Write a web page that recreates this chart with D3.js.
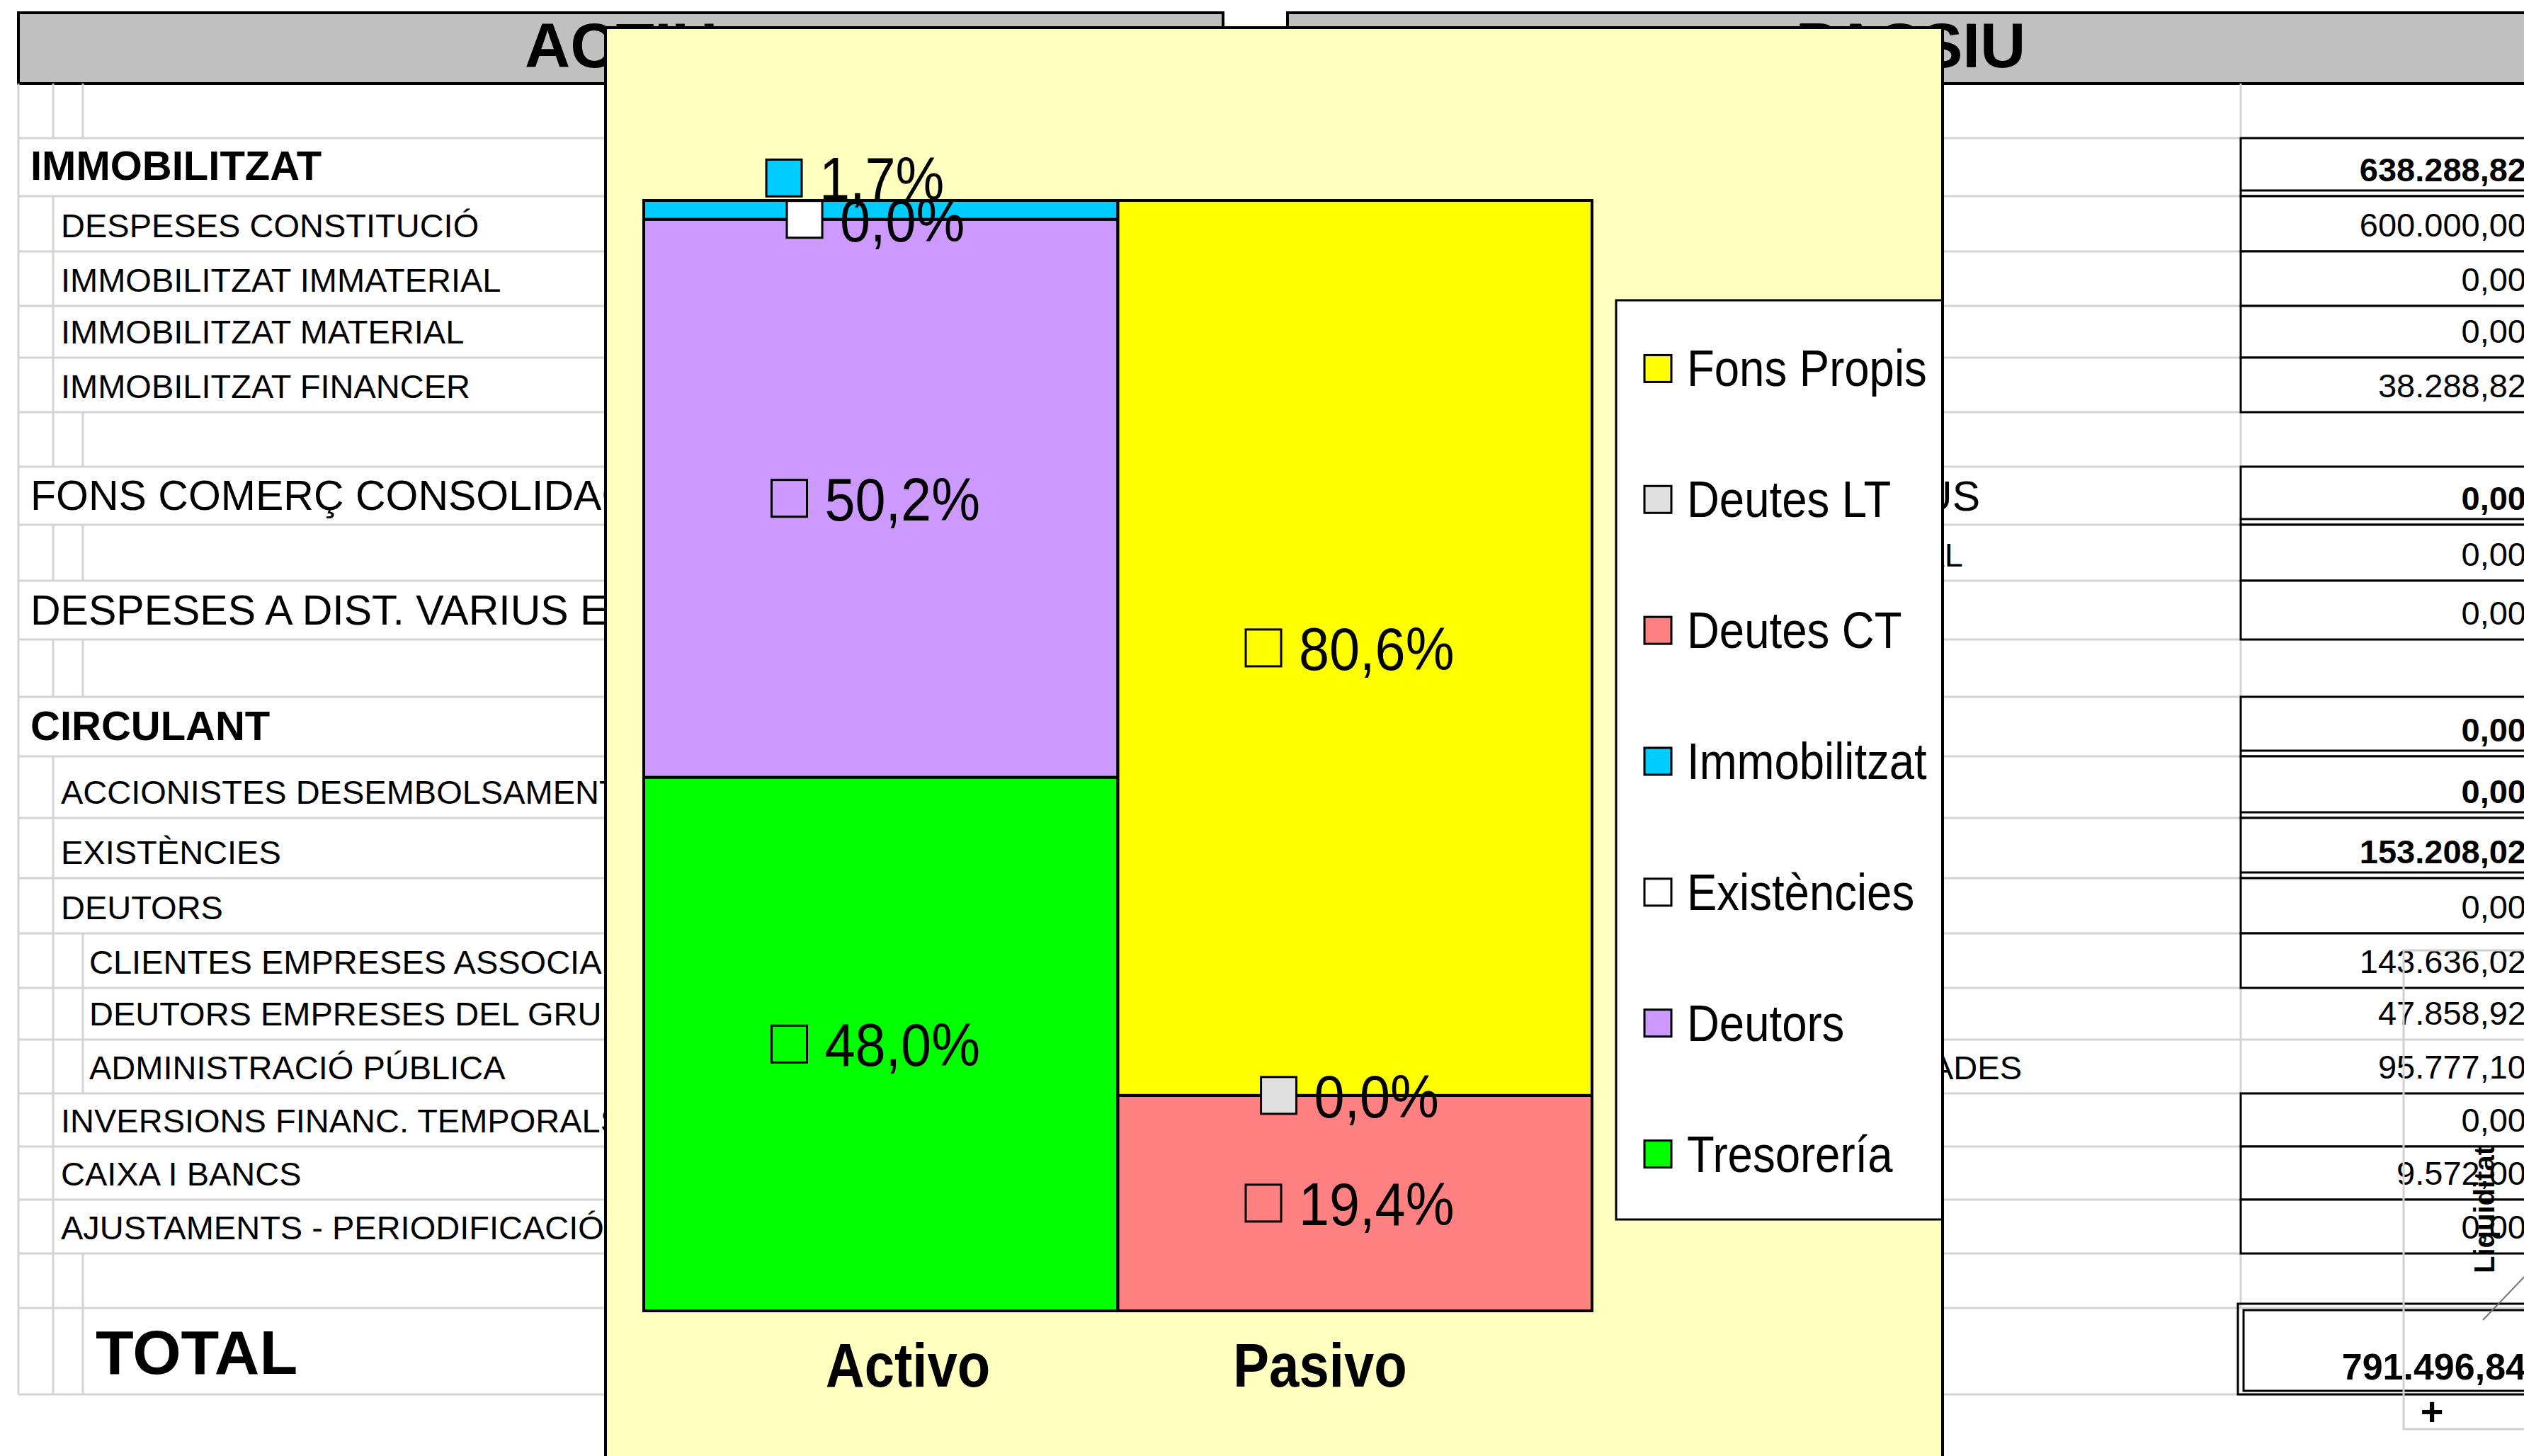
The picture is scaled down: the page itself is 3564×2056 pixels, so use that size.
<!DOCTYPE html>
<html>
<head>
<meta charset="utf-8">
<script src="https://cdn.jsdelivr.net/npm/d3@7/dist/d3.min.js"></script>
<style>
    body { margin: 0; background: #ffffff; overflow: hidden; }
    svg { display: block; font-family: "Liberation Sans", Arial, sans-serif; }
</style>
</head>
<body>
<div id="sheet"></div>
<script>
var categories = ["Activo", "Pasivo"];
var activo_series = ["Tresorería", "Deutors", "Existències", "Immobilitzat"];
var activo_values = [48.0, 50.2, 0.0, 1.7];
var pasivo_series = ["Deutes CT", "Deutes LT", "Fons Propis"];
var pasivo_values = [19.4, 0.0, 80.6];
var legend_names = ["Fons Propis", "Deutes LT", "Deutes CT", "Immobilitzat", "Existències", "Deutors", "Tresorería"];
var legend_colors = ["#FFFF00", "#E0E0E0", "#FF8080", "#00CCFF", "#FFFFFF", "#CC99FF", "#00FF00"];

// ---- spreadsheet behind the chart ----
var actiu_labels = ["", "IMMOBILITZAT", "DESPESES CONSTITUCIÓ", "IMMOBILITZAT IMMATERIAL", "IMMOBILITZAT MATERIAL",
    "IMMOBILITZAT FINANCER", "", "FONS COMERÇ CONSOLIDACIÓ", "", "DESPESES A DIST. VARIUS EXERCICIS", "",
    "CIRCULANT", "ACCIONISTES DESEMBOLSAMENTS EXIGITS", "EXISTÈNCIES", "DEUTORS", "CLIENTES EMPRESES ASSOCIADES",
    "DEUTORS EMPRESES DEL GRUP", "ADMINISTRACIÓ PÚBLICA", "INVERSIONS FINANC. TEMPORALS", "CAIXA I BANCS",
    "AJUSTAMENTS - PERIODIFICACIÓ", "", "TOTAL"];
var actiu_kinds = ["blank", "head", "item", "item", "item", "item", "blank", "big", "blank", "big", "blank",
    "head", "item", "item", "item", "sub", "sub", "sub", "item", "item", "item", "blank", "total"];
var passiu_labels = ["", "", "", "", "", "", "", "INGRESSOS A DIST. VARIUS", "SUBVENCIONS DE CAPITAL", "", "",
    "", "", "", "", "", "", "DEUTES AMB EMPRESES ASSOCIADES", "", "", "", "", ""];
var passiu_values = [null, 638288.82, 600000.00, 0, 0, 38288.82, null, 0, 0, 0, null,
    0, 0, 153208.02, 0, 143636.02, 47858.92, 95777.10, 0, 9572.00, 0, null, 791496.84];

// ---- layout ----
var W = 3564, H = 2056;
var row_edges = [118, 195, 277, 355, 432, 505, 582, 659, 741, 820, 903, 984, 1068, 1155, 1240, 1318, 1395,
    1468, 1544, 1619, 1694, 1770, 1847, 1969];
var bold_rows = [1, 7, 11, 12, 13, 22];
var double_rows = [1, 7, 11, 12, 13];
var open_rows = [16, 17];
var passiu_label_end = {7: 2796, 8: 2772, 17: 2855};

var ca = d3.formatLocale({decimal: ",", thousands: ".", grouping: [3], currency: ["", " €"]});
var money = ca.format(",.2f");
var pct = function(v) { return ca.format(".1f")(v) + "%"; };

var svg = d3.select("#sheet").append("svg").attr("width", W).attr("height", H);

// ================= spreadsheet =================
var sheet = svg.append("g");
var grid = "#D4D4D4";

// header bands
sheet.append("rect").attr("x", 26).attr("y", 18).attr("width", 1701).attr("height", 100)
    .attr("fill", "#C0C0C0").attr("stroke", "#000").attr("stroke-width", 4);
sheet.append("text").attr("x", 877).attr("y", 95).attr("text-anchor", "middle")
    .attr("font-size", 89).attr("font-weight", "bold").text("ACTIU");
sheet.append("rect").attr("x", 1818).attr("y", 18).attr("width", 1780).attr("height", 100)
    .attr("fill", "#C0C0C0").attr("stroke", "#000").attr("stroke-width", 4);
sheet.append("text").attr("x", 2698).attr("y", 95).attr("text-anchor", "middle")
    .attr("font-size", 89).attr("font-weight", "bold").text("PASSIU");

var rows = actiu_labels.map(function(lab, i) {
    return {i: i, top: row_edges[i], bottom: row_edges[i + 1], label: lab, kind: actiu_kinds[i],
            plabel: passiu_labels[i], value: passiu_values[i]};
});

// horizontal grid lines
sheet.selectAll(".hline").data(row_edges.slice(1)).enter().append("line")
    .attr("x1", 26).attr("x2", 1727).attr("y1", function(d) { return d; }).attr("y2", function(d) { return d; })
    .attr("stroke", grid).attr("stroke-width", 3);
sheet.selectAll(".hline2").data(row_edges.slice(1)).enter().append("line")
    .attr("x1", 1818).attr("x2", W).attr("y1", function(d) { return d; }).attr("y2", function(d) { return d; })
    .attr("stroke", grid).attr("stroke-width", 3);
sheet.append("line").attr("x1", 26).attr("x2", 26).attr("y1", 118).attr("y2", 1969)
    .attr("stroke", grid).attr("stroke-width", 3);

// indent lines of the actiu labels
rows.forEach(function(r) {
    var xs = [];
    if (r.kind == "blank" || r.kind == "sub" || r.kind == "total") { xs = [75, 117]; }
    else if (r.kind == "item") { xs = [75]; }
    xs.forEach(function(xx) {
        sheet.append("line").attr("x1", xx).attr("x2", xx).attr("y1", r.top).attr("y2", r.bottom)
            .attr("stroke", grid).attr("stroke-width", 3);
    });
    if (r.value === null || open_rows.indexOf(r.i) >= 0) {
        sheet.append("line").attr("x1", 3164).attr("x2", 3164).attr("y1", r.top).attr("y2", r.bottom)
            .attr("stroke", grid).attr("stroke-width", 3);
    }
});

var label_style = {
    head: {x: 43, size: 58, weight: "bold", lift: 23},
    big: {x: 43, size: 59, weight: "normal", lift: 21},
    item: {x: 86, size: 47, weight: "normal", lift: 20},
    sub: {x: 126, size: 47, weight: "normal", lift: 20},
    total: {x: 135, size: 88, weight: "bold", lift: 29},
    blank: {x: 43, size: 47, weight: "normal", lift: 20}
};

sheet.selectAll(".alabel").data(rows.filter(function(r) { return r.label; })).enter().append("text")
    .attr("x", function(r) { return label_style[r.kind].x; })
    .attr("y", function(r) { return r.bottom - label_style[r.kind].lift; })
    .attr("font-size", function(r) { return label_style[r.kind].size; })
    .attr("font-weight", function(r) { return label_style[r.kind].weight; })
    .text(function(r) { return r.label; });

sheet.selectAll(".plabel").data(rows.filter(function(r) { return r.plabel; })).enter().append("text")
    .attr("x", function(r) { return passiu_label_end[r.i]; })
    .attr("y", function(r) { return r.bottom - 20; })
    .attr("text-anchor", "end")
    .attr("font-size", function(r) { return r.i == 7 ? 59 : 47; })
    .text(function(r) { return r.plabel; });

// value cells
rows.filter(function(r) { return r.value !== null; }).forEach(function(r) {
    var boxed = open_rows.indexOf(r.i) < 0;
    if (r.kind == "total") {
        sheet.append("rect").attr("x", 3160).attr("y", 1841).attr("width", 440).attr("height", 128)
            .attr("fill", "none").attr("stroke", "#000").attr("stroke-width", 3);
        sheet.append("rect").attr("x", 3168).attr("y", 1850).attr("width", 440).attr("height", 114)
            .attr("fill", "none").attr("stroke", "#000").attr("stroke-width", 3);
    } else if (boxed) {
        sheet.append("rect").attr("x", 3164).attr("y", r.top).attr("width", 440).attr("height", r.bottom - r.top)
            .attr("fill", "#fff").attr("stroke", "#000").attr("stroke-width", 3);
        if (double_rows.indexOf(r.i) >= 0) {
            sheet.append("line").attr("x1", 3164).attr("x2", W).attr("y1", r.bottom - 8).attr("y2", r.bottom - 8)
                .attr("stroke", "#000").attr("stroke-width", 3);
        }
    }
    sheet.append("text").attr("x", 3567)
        .attr("y", r.kind == "total" ? 1948 : r.bottom - 21)
        .attr("text-anchor", "end")
        .attr("font-size", r.kind == "total" ? 52 : 47)
        .attr("font-weight", bold_rows.indexOf(r.i) >= 0 ? "bold" : "normal")
        .text(money(r.value));
});

// small "Liquiditat" drawing object on the right
var liq = svg.append("g");
liq.append("rect").attr("x", 3394).attr("y", 1342).attr("width", 240).attr("height", 676)
    .attr("fill", "none").attr("stroke", "#D0D0D0").attr("stroke-width", 3);
liq.append("line").attr("x1", 3506).attr("y1", 1864).attr("x2", 3572).attr("y2", 1795)
    .attr("stroke", "#707070").attr("stroke-width", 2);
liq.append("text").attr("transform", "translate(3522,1708) rotate(-90)").attr("text-anchor", "middle")
    .attr("font-size", 40).attr("font-weight", "bold").text("Liquiditat");
liq.append("text").attr("x", 3434).attr("y", 2012).attr("text-anchor", "middle")
    .attr("font-size", 56).attr("font-weight", "bold").text("+");

// ================= chart object =================
var chart = svg.append("g");
chart.append("rect").attr("x", 855).attr("y", 39).attr("width", 1888).attr("height", 2100)
    .attr("fill", "#FFFFC0");

var color = d3.scaleOrdinal().domain(legend_names).range(legend_colors);

var x = d3.scaleBand().domain(categories).range([909, 2248]).padding(0);
var y = d3.scaleLinear().domain([0, 100]).range([1851, 283]);
// category names sit a little toward the middle of the plot
var xlab = d3.scalePoint().domain(categories).range([1282, 1864]);

// 100% stacked table: one row per category, normalised to the category total
var stack_keys = activo_series.concat(pasivo_series);
var table = [
    {cat: "Activo", names: activo_series, vals: activo_values},
    {cat: "Pasivo", names: pasivo_series, vals: pasivo_values}
].map(function(c) {
    var total = d3.sum(c.vals);
    var row = {cat: c.cat};
    stack_keys.forEach(function(k) { row[k] = 0; });
    c.names.forEach(function(n, i) { row[n] = c.vals[i] / total * 100; row[n + "_raw"] = c.vals[i]; });
    row.names = c.names;
    return row;
});

var stacked = d3.stack().keys(stack_keys)(table);
var segments = [];
stacked.forEach(function(layer) {
    layer.forEach(function(p) {
        if (p.data.names.indexOf(layer.key) >= 0) {
            segments.push({key: layer.key, cat: p.data.cat, y0: p[0], y1: p[1], raw: p.data[layer.key + "_raw"]});
        }
    });
});

chart.selectAll(".seg").data(segments.filter(function(s) { return s.y1 > s.y0; })).enter().append("rect")
    .attr("x", function(s) { return x(s.cat); })
    .attr("width", x.bandwidth())
    .attr("y", function(s) { return y(s.y1); })
    .attr("height", function(s) { return y(s.y0) - y(s.y1); })
    .attr("fill", function(s) { return color(s.key); })
    .attr("stroke", "#000").attr("stroke-width", 4);

// data labels: legend key + percentage, centred on each segment
var label_nudge = {"Immobilitzat": [-29, -45]};
var sx = 0.9;
segments.forEach(function(s) {
    var nud = label_nudge[s.key] || [0, 0];
    var cx = x(s.cat) + x.bandwidth() / 2 - 7 + nud[0];
    var cy = y((s.y0 + s.y1) / 2) + nud[1];
    var g = chart.append("g");
    var t = g.append("text").attr("font-size", 86).text(pct(s.raw));
    var tw = t.node().getComputedTextLength() * sx;
    var left = cx - (50 + 25 + tw) / 2;
    g.insert("rect", "text").attr("x", left).attr("y", cy - 26).attr("width", 50).attr("height", 52)
        .attr("fill", color(s.key)).attr("stroke", "#000").attr("stroke-width", 3);
    t.attr("transform", "translate(" + (left + 75) + "," + (cy + 31) + ") scale(" + sx + ",1)");
});

// category names
chart.selectAll(".cat").data(categories).enter().append("text")
    .attr("transform", function(d) { return "translate(" + xlab(d) + ",1958) scale(0.865,1)"; })
    .attr("text-anchor", "middle").attr("font-size", 88).attr("font-weight", "bold")
    .text(function(d) { return d; });

// legend (its right side is cut by the chart border)
var ly = d3.scaleBand().domain(legend_names).range([428, 1722]);
chart.append("rect").attr("x", 2282).attr("y", 424).attr("width", 461).attr("height", 1298)
    .attr("fill", "#fff").attr("stroke", "#000").attr("stroke-width", 3);
var items = chart.selectAll(".leg").data(legend_names).enter().append("g")
    .attr("transform", function(d) { return "translate(2322," + (ly(d) + ly.bandwidth() / 2) + ")"; });
items.append("rect").attr("x", 0).attr("y", -19).attr("width", 38).attr("height", 38)
    .attr("fill", function(d) { return color(d); }).attr("stroke", "#000").attr("stroke-width", 3);
items.append("text").attr("transform", "translate(60,25) scale(0.87,1)")
    .attr("font-size", 73).text(function(d) { return d; });

// chart border on top
chart.append("rect").attr("x", 855).attr("y", 39).attr("width", 1888).attr("height", 2100)
    .attr("fill", "none").attr("stroke", "#000").attr("stroke-width", 4);
</script>
</body>
</html>
